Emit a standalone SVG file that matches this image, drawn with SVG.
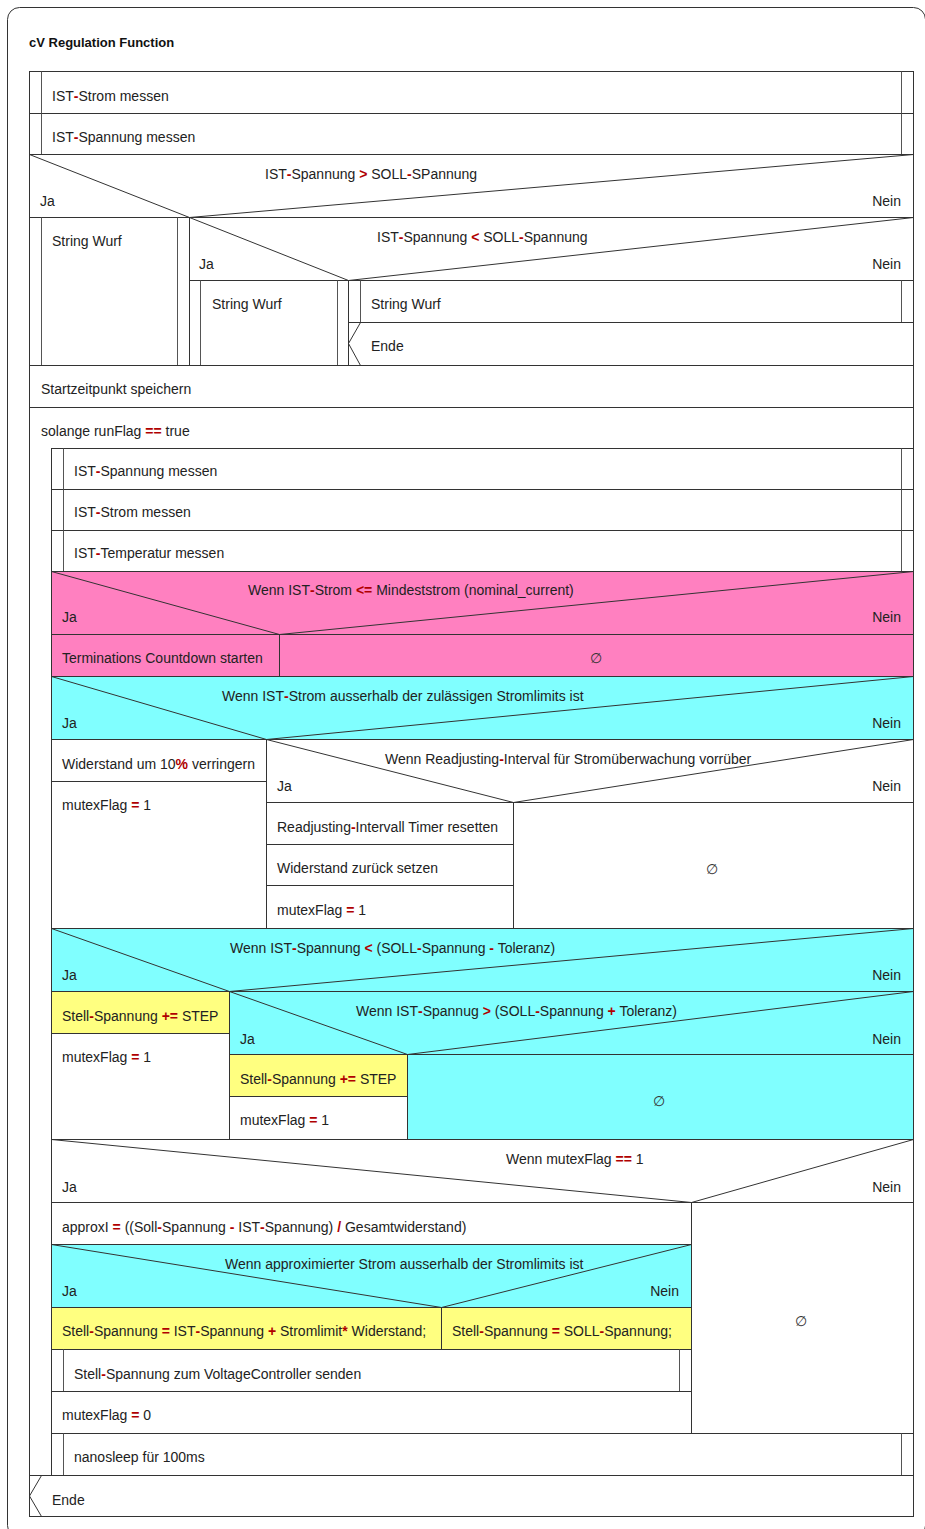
<svg xmlns="http://www.w3.org/2000/svg" width="925" height="1529" viewBox="0 0 925 1529">
<style>
.b{stroke:#333;stroke-width:1;fill:#fff}
.p{stroke:#333;stroke-width:1;fill:#FF80C0}
.c{stroke:#333;stroke-width:1;fill:#80FFFF}
.y{stroke:#333;stroke-width:1;fill:#FFFF80}
.l{stroke:#333;stroke-width:1;fill:none}
.v{stroke:#555;stroke-width:1;fill:none}
text{font-family:"Liberation Sans",Arial,sans-serif;font-size:14px;fill:#222}
.e{text-anchor:end}
.o{fill:#b00000;font-weight:bold}
.n{font-family:"DejaVu Sans",sans-serif;font-size:14px;text-anchor:middle;fill:#333}
.h{font-weight:bold;font-size:13px;fill:#111}
</style>
<rect x="7.5" y="7.5" width="918" height="1530" rx="12" fill="#fff" stroke="#333"/>
<text class="h" x="29" y="47">cV Regulation Function</text>
<rect class="b" x="29.5" y="71.5" width="884" height="1445"/>

<g id="n1"><rect class="b" x="29.5" y="71.5" width="884" height="42"/><path class="v" d="M41.5 71.5V113.5M901.5 71.5V113.5"/><text x="52" y="101">IST<tspan class="o">-</tspan>Strom messen</text></g>
<g id="n2"><rect class="b" x="29.5" y="113.5" width="884" height="41"/><path class="v" d="M41.5 113.5V154.5M901.5 113.5V154.5"/><text x="52" y="142">IST<tspan class="o">-</tspan>Spannung messen</text></g>

<g id="if1"><rect class="b" x="29.5" y="154.5" width="884" height="63"/><polyline class="l" points="29.5,154.5 189.5,217.5 913.5,154.5"/>
<text x="265" y="179">IST<tspan class="o">-</tspan>Spannung <tspan class="o">&gt;</tspan> SOLL<tspan class="o">-</tspan>SPannung</text>
<text x="40" y="206">Ja</text><text class="e" x="901" y="206">Nein</text></g>
<g id="n3"><rect class="b" x="29.5" y="217.5" width="160" height="148"/><path class="v" d="M41.5 217.5V365.5M177.5 217.5V365.5"/><text x="52" y="246">String Wurf</text></g>

<g id="if2"><rect class="b" x="189.5" y="217.5" width="724" height="63"/><polyline class="l" points="189.5,217.5 348.5,280.5 913.5,217.5"/>
<text x="377" y="242">IST<tspan class="o">-</tspan>Spannung <tspan class="o">&lt;</tspan> SOLL<tspan class="o">-</tspan>Spannung</text>
<text x="199" y="269">Ja</text><text class="e" x="901" y="269">Nein</text></g>
<g id="n4"><rect class="b" x="189.5" y="280.5" width="159" height="85"/><path class="v" d="M200.5 280.5V365.5M337.5 280.5V365.5"/><text x="212" y="309">String Wurf</text></g>
<g id="n5"><rect class="b" x="348.5" y="280.5" width="565" height="42"/><path class="v" d="M360.5 280.5V322.5M901.5 280.5V322.5"/><text x="371" y="309">String Wurf</text></g>
<g id="n6"><rect class="b" x="348.5" y="322.5" width="565" height="43"/><polyline class="l" points="360.5,322.5 348.5,343.5 360.5,365.5"/><text x="371" y="351">Ende</text></g>

<g id="n7"><rect class="b" x="29.5" y="365.5" width="884" height="42"/><text x="41" y="394">Startzeitpunkt speichern</text></g>

<g id="loop"><rect class="b" x="29.5" y="407.5" width="884" height="1068"/><text x="41" y="436">solange runFlag <tspan class="o">==</tspan> true</text></g>
<g id="n8"><rect class="b" x="51.5" y="448.5" width="862" height="41"/><path class="v" d="M63.5 448.5V489.5M901.5 448.5V489.5"/><text x="74" y="476">IST<tspan class="o">-</tspan>Spannung messen</text></g>
<g id="n9"><rect class="b" x="51.5" y="489.5" width="862" height="41"/><path class="v" d="M63.5 489.5V530.5M901.5 489.5V530.5"/><text x="74" y="517">IST<tspan class="o">-</tspan>Strom messen</text></g>
<g id="n10"><rect class="b" x="51.5" y="530.5" width="862" height="41"/><path class="v" d="M63.5 530.5V571.5M901.5 530.5V571.5"/><text x="74" y="558">IST<tspan class="o">-</tspan>Temperatur messen</text></g>

<g id="if3"><rect class="p" x="51.5" y="571.5" width="862" height="63"/><polyline class="l" points="51.5,571.5 279.5,634.5 913.5,571.5"/>
<text x="248" y="595">Wenn IST<tspan class="o">-</tspan>Strom <tspan class="o">&lt;=</tspan> Mindeststrom (nominal_current)</text>
<text x="62" y="622">Ja</text><text class="e" x="901" y="622">Nein</text></g>
<g id="n11"><rect class="p" x="51.5" y="634.5" width="228" height="42"/><text x="62" y="663">Terminations Countdown starten</text></g>
<g id="n12"><rect class="p" x="279.5" y="634.5" width="634" height="42"/><text class="n" x="596" y="663">∅</text></g>

<g id="if4"><rect class="c" x="51.5" y="676.5" width="862" height="63"/><polyline class="l" points="51.5,676.5 266.5,739.5 913.5,676.5"/>
<text x="222" y="701">Wenn IST<tspan class="o">-</tspan>Strom ausserhalb der zulässigen Stromlimits ist</text>
<text x="62" y="728">Ja</text><text class="e" x="901" y="728">Nein</text></g>
<g id="n13"><rect class="b" x="51.5" y="739.5" width="215" height="42"/><text x="62" y="769">Widerstand um 10<tspan class="o">%</tspan> verringern</text></g>
<g id="n14"><rect class="b" x="51.5" y="781.5" width="215" height="147"/><text x="62" y="810">mutexFlag <tspan class="o">=</tspan> 1</text></g>

<g id="if5"><rect class="b" x="266.5" y="739.5" width="647" height="63"/><polyline class="l" points="266.5,739.5 513.5,802.5 913.5,739.5"/>
<text x="385" y="764">Wenn Readjusting<tspan class="o">-</tspan>Interval für Stromüberwachung vorrüber</text>
<text x="277" y="791">Ja</text><text class="e" x="901" y="791">Nein</text></g>
<g id="n15"><rect class="b" x="266.5" y="802.5" width="247" height="42"/><text x="277" y="832">Readjusting<tspan class="o">-</tspan>Intervall Timer resetten</text></g>
<g id="n16"><rect class="b" x="266.5" y="844.5" width="247" height="41"/><text x="277" y="873">Widerstand zurück setzen</text></g>
<g id="n17"><rect class="b" x="266.5" y="885.5" width="247" height="43"/><text x="277" y="915">mutexFlag <tspan class="o">=</tspan> 1</text></g>
<g id="n18"><rect class="b" x="513.5" y="802.5" width="400" height="126"/><text class="n" x="712" y="874">∅</text></g>

<g id="if6"><rect class="c" x="51.5" y="928.5" width="862" height="63"/><polyline class="l" points="51.5,928.5 229.5,991.5 913.5,928.5"/>
<text x="230" y="953">Wenn IST<tspan class="o">-</tspan>Spannung <tspan class="o">&lt;</tspan> (SOLL<tspan class="o">-</tspan>Spannung <tspan class="o">-</tspan> Toleranz)</text>
<text x="62" y="980">Ja</text><text class="e" x="901" y="980">Nein</text></g>
<g id="n19"><rect class="y" x="51.5" y="991.5" width="178" height="42"/><text x="62" y="1021">Stell<tspan class="o">-</tspan>Spannung <tspan class="o">+=</tspan> STEP</text></g>
<g id="n20"><rect class="b" x="51.5" y="1033.5" width="178" height="106"/><text x="62" y="1062">mutexFlag <tspan class="o">=</tspan> 1</text></g>

<g id="if7"><rect class="c" x="229.5" y="991.5" width="684" height="63"/><polyline class="l" points="229.5,991.5 407.5,1054.5 913.5,991.5"/>
<text x="356" y="1016">Wenn IST<tspan class="o">-</tspan>Spannug <tspan class="o">&gt;</tspan> (SOLL<tspan class="o">-</tspan>Spannung <tspan class="o">+</tspan> Toleranz)</text>
<text x="240" y="1044">Ja</text><text class="e" x="901" y="1044">Nein</text></g>
<g id="n21"><rect class="y" x="229.5" y="1054.5" width="178" height="42"/><text x="240" y="1084">Stell<tspan class="o">-</tspan>Spannung <tspan class="o">+=</tspan> STEP</text></g>
<g id="n22"><rect class="b" x="229.5" y="1096.5" width="178" height="43"/><text x="240" y="1125">mutexFlag <tspan class="o">=</tspan> 1</text></g>
<g id="n23"><rect class="c" x="407.5" y="1054.5" width="506" height="85"/><text class="n" x="659" y="1106">∅</text></g>

<g id="if8"><rect class="b" x="51.5" y="1139.5" width="862" height="63"/><polyline class="l" points="51.5,1139.5 691.5,1202.5 913.5,1139.5"/>
<text x="506" y="1164">Wenn mutexFlag <tspan class="o">==</tspan> 1</text>
<text x="62" y="1192">Ja</text><text class="e" x="901" y="1192">Nein</text></g>
<g id="n24"><rect class="b" x="51.5" y="1202.5" width="640" height="42"/><text x="62" y="1232">approxI <tspan class="o">=</tspan> ((Soll<tspan class="o">-</tspan>Spannung <tspan class="o">-</tspan> IST<tspan class="o">-</tspan>Spannung) <tspan class="o">/</tspan> Gesamtwiderstand)</text></g>

<g id="if9"><rect class="c" x="51.5" y="1244.5" width="640" height="63"/><polyline class="l" points="51.5,1244.5 441.5,1307.5 691.5,1244.5"/>
<text x="225" y="1269">Wenn approximierter Strom ausserhalb der Stromlimits ist</text>
<text x="62" y="1296">Ja</text><text class="e" x="679" y="1296">Nein</text></g>
<g id="n25"><rect class="y" x="51.5" y="1307.5" width="390" height="42"/><text x="62" y="1336">Stell<tspan class="o">-</tspan>Spannung <tspan class="o">=</tspan> IST<tspan class="o">-</tspan>Spannung <tspan class="o">+</tspan> Stromlimit<tspan class="o">*</tspan> Widerstand;</text></g>
<g id="n26"><rect class="y" x="441.5" y="1307.5" width="250" height="42"/><text x="452" y="1336">Stell<tspan class="o">-</tspan>Spannung <tspan class="o">=</tspan> SOLL<tspan class="o">-</tspan>Spannung;</text></g>
<g id="n27"><rect class="b" x="51.5" y="1349.5" width="640" height="42"/><path class="v" d="M63.5 1349.5V1391.5M679.5 1349.5V1391.5"/><text x="74" y="1379">Stell<tspan class="o">-</tspan>Spannung zum VoltageController senden</text></g>
<g id="n28"><rect class="b" x="51.5" y="1391.5" width="640" height="42"/><text x="62" y="1420">mutexFlag <tspan class="o">=</tspan> 0</text></g>
<g id="n29"><rect class="b" x="691.5" y="1202.5" width="222" height="231"/><text class="n" x="801" y="1326">∅</text></g>

<g id="n30"><rect class="b" x="51.5" y="1433.5" width="862" height="42"/><path class="v" d="M63.5 1433.5V1475.5M901.5 1433.5V1475.5"/><text x="74" y="1462">nanosleep für 100ms</text></g>
<g id="n31"><rect class="b" x="29.5" y="1475.5" width="884" height="41"/><polyline class="l" points="41.5,1475.5 29.5,1496 41.5,1516.5"/><text x="52" y="1505">Ende</text></g>
</svg>
